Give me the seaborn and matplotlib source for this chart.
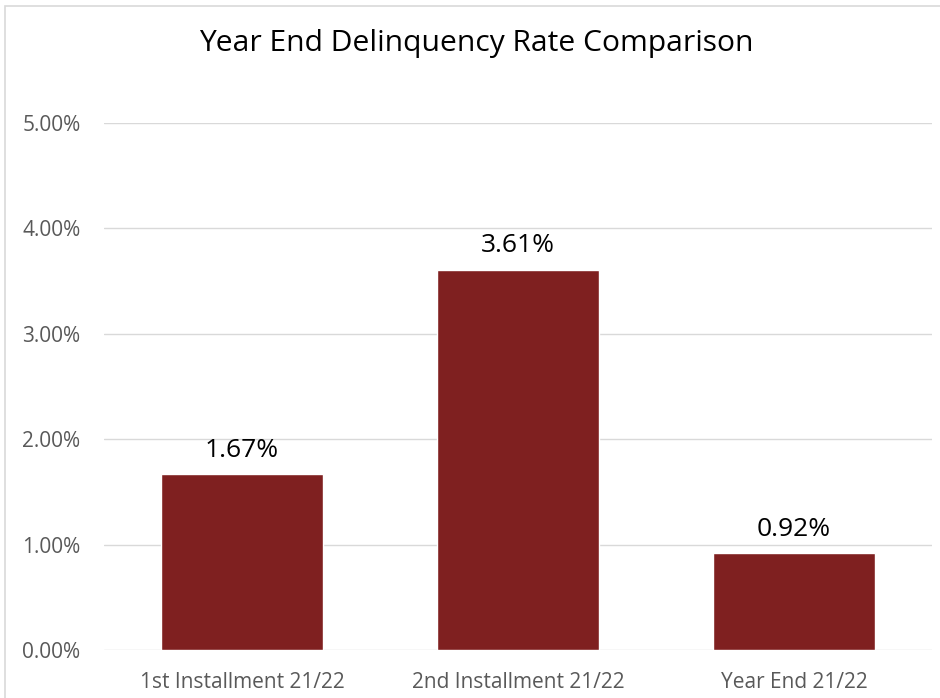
import matplotlib
matplotlib.use("Agg")
import matplotlib.pyplot as plt
from matplotlib.patches import Rectangle
from matplotlib.ticker import PercentFormatter
import seaborn as sns
import pandas as pd

categories = ["1st Installment 21/22", "2nd Installment 21/22", "Year End 21/22"]
rates = [0.0167, 0.0361, 0.0092]
y_ticks = [0.0, 0.01, 0.02, 0.03, 0.04, 0.05]
title = "Year End Delinquency Rate Comparison"

sns.set_theme(style="white")
plt.rcParams['font.family'] = ['Open Sans', 'DejaVu Sans']

df = pd.DataFrame({"category": categories, "rate": rates})

fig = plt.figure(figsize=(9.4, 6.98), dpi=100)
ax = fig.add_axes([104/940, 1-650/698, (932-104)/940, (650-123)/698])

sns.barplot(data=df, x="category", y="rate", color="#7F2020", saturation=1,
            width=0.587, ax=ax)

ax.set_ylim(0, 0.05)
ax.set_yticks(y_ticks)
ax.yaxis.set_major_formatter(PercentFormatter(xmax=1, decimals=2))
ax.grid(axis="y", color="#d9d9d9", linewidth=1)
ax.set_axisbelow(True)
for s in ax.spines.values():
    s.set_visible(False)
ax.set_xlabel("")
ax.set_ylabel("")
ax.tick_params(axis="both", length=0, labelsize=15, labelcolor="#595959")
ax.tick_params(axis="y", pad=17)
ax.tick_params(axis="x", pad=16)

for c in ax.containers:
    ax.bar_label(c, labels=[f"{v*100:.2f}%" for v in rates], padding=8,
                 fontsize=19, color="#000000")

fig.text(476/940, 1-44/698, title, ha="center", va="center", fontsize=21.6, color="#000000")

fig.patches.append(Rectangle((5/940, -0.05), 1.0, 1-6/698+0.05, transform=fig.transFigure,
                             fill=False, edgecolor="#d9d9d9", linewidth=1.2))

fig.savefig("out.png", dpi=100)
